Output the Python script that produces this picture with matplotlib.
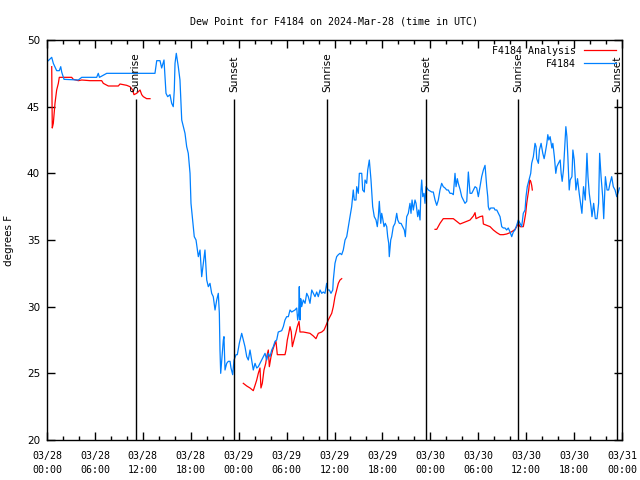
import numpy as np
import pandas as pd
import matplotlib
matplotlib.use("Agg")
import matplotlib.pyplot as plt
import matplotlib.dates as mdates

# hours after 2024-03-28 00:00 UTC, dew point in degrees F
obs_hours = [0.16, 0.59, 0.79, 1.21, 1.54, 1.72, 1.84, 2.13, 3.92, 4.35, 6.22, 6.42, 6.57, 7.48,
             13.52, 13.74, 14.15, 14.36, 14.65, 14.9, 15.11, 15.4, 15.61, 15.81, 15.94, 16.03, 16.19,
             16.44, 16.65, 16.87, 17.07, 17.28, 17.49, 17.69, 17.91, 18.03, 18.24, 18.44, 18.66, 18.95,
             19.16, 19.37, 19.57, 19.78, 20.0, 20.2, 20.41, 20.62, 20.82, 21.04, 21.25, 21.45, 21.58,
             21.66, 21.75, 21.88, 22.08, 22.16, 22.29, 22.5, 22.7, 22.92, 23.04, 23.25, 23.42, 23.67,
             23.83, 24.08, 24.38, 24.58, 24.79, 25.01, 25.21, 25.42, 25.63, 25.83, 26.05, 26.26, 26.46,
             26.67, 26.88, 27.09, 27.3, 27.51, 27.71, 27.92, 28.14, 28.34, 28.55, 28.76, 28.96, 29.39,
             29.59, 29.8, 30.01, 30.22, 30.43, 30.64, 31.05, 31.27, 31.39, 31.52, 31.59, 31.68, 31.77,
             31.89, 32.09, 32.31, 32.52, 32.72, 32.93, 33.15, 33.35, 33.56, 33.77, 33.97, 34.19, 34.4,
             34.6, 34.81, 35.02, 35.15, 35.35, 35.56, 35.78, 35.85, 35.98, 36.06, 36.27, 36.48, 36.69,
             36.9, 37.1, 37.32, 37.53, 37.73, 37.94, 38.15, 38.35, 38.48, 38.69, 38.78, 38.98, 39.11,
             39.41, 39.53, 39.73, 39.82, 40.03, 40.16, 40.36, 40.57, 40.78, 40.98, 41.2, 41.36, 41.49,
             41.61, 41.79, 41.91, 42.04, 42.2, 42.36, 42.54, 42.66, 42.79, 42.86, 43.04, 43.16, 43.36,
             43.58, 43.79, 43.92, 44.12, 44.33, 44.54, 44.74, 44.87, 45.04, 45.24, 45.45, 45.58, 45.71,
             45.87, 46.08, 46.21, 46.42, 46.55, 46.71, 46.83, 46.92, 47.05, 47.21, 47.33, 47.46, 47.75,
             48.17, 48.37, 48.59, 48.8, 49.0, 49.21, 49.42, 49.62, 49.84, 50.05, 50.25, 50.46, 50.68,
             50.88, 51.09, 51.22, 51.38, 51.5, 51.72, 51.93, 52.13, 52.34, 52.56, 52.76, 52.97, 53.19,
             53.39, 53.6, 53.81, 54.01, 54.22, 54.43, 54.64, 54.85, 55.06, 55.19, 55.26, 55.39, 55.56,
             55.76, 55.98, 56.1, 56.32, 56.52, 56.73, 56.94, 57.14, 57.35, 57.56, 57.76, 57.98, 58.19,
             58.39, 58.6, 58.81, 59.02, 59.23, 59.44, 59.64, 59.86, 59.98, 60.14, 60.36, 60.57, 60.69,
             60.9, 61.11, 61.24, 61.32, 61.53, 61.66, 61.87, 62.08, 62.25, 62.38, 62.59, 62.71, 62.84,
             63.0, 63.22, 63.34, 63.53, 63.71, 63.84, 64.04, 64.26, 64.38, 64.51, 64.67, 64.79, 64.97,
             65.1, 65.22, 65.39, 65.51, 65.73, 65.85, 66.02, 66.23, 66.43, 66.64, 66.86, 66.98, 67.18,
             67.4, 67.61, 67.74, 67.9, 68.12, 68.24, 68.45, 68.66, 68.87, 69.07, 69.2, 69.38, 69.58,
             69.71, 69.92, 70.13, 70.33, 70.5, 70.71, 70.91, 71.13, 71.34, 71.54, 71.67]
obs_dew = [48.45, 48.7, 48.25, 47.7, 47.7, 48.0, 47.6, 47.05, 47.0, 47.2, 47.2, 47.5, 47.2, 47.5,
           47.5, 48.45, 48.45, 47.9, 48.5, 46.0, 45.75, 45.9, 45.25, 45.0, 46.25, 48.25, 49.0,
           48.0, 47.0, 44.0, 43.5, 43.0, 42.0, 41.5, 40.0, 37.75, 36.5, 35.25, 35.0, 33.75,
           34.25, 32.25, 33.25, 34.25, 32.0, 31.5, 31.75, 31.0, 30.75, 29.75, 30.5, 31.0, 29.5,
           26.75, 25.0, 26.0, 27.5, 27.75, 25.25, 25.75, 25.9, 25.9, 25.4, 24.9, 26.0, 26.4,
           26.4, 27.25, 28.0, 27.5, 27.0, 26.25, 26.0, 26.75, 26.0, 25.25, 25.75, 25.4, 25.5,
           25.75, 26.0, 26.25, 26.5, 26.0, 26.5, 26.25, 26.75, 27.0, 27.4, 27.5, 28.1, 28.2,
           28.5, 29.0, 29.25, 29.25, 29.75, 29.6, 29.75, 29.9, 29.0, 29.5, 31.5, 29.0, 30.6,
           30.0, 30.5, 30.25, 31.0, 30.75, 30.25, 31.25, 31.0, 30.75, 31.1, 30.75, 31.25, 31.0,
           31.1, 31.0, 31.75, 31.25, 31.25, 31.0, 31.25, 32.0, 32.75, 33.25, 33.75, 33.9, 34.0,
           33.9, 34.25, 35.0, 35.25, 36.0, 36.75, 37.5, 38.75, 38.0, 38.0, 39.0, 38.5, 40.0,
           40.0, 38.75, 38.6, 39.5, 39.25, 40.25, 41.0, 39.5, 37.5, 36.75, 36.5, 36.0, 36.75,
           37.9, 36.25, 37.0, 36.6, 36.0, 36.25, 36.0, 35.25, 34.75, 33.75, 35.0, 35.25, 36.0,
           36.25, 37.0, 36.5, 36.25, 36.25, 36.0, 35.75, 35.25, 36.75, 37.0, 37.75, 37.0, 38.0,
           37.25, 38.0, 37.75, 36.75, 37.25, 36.5, 38.75, 39.5, 38.25, 38.5, 37.75, 39.0, 38.75,
           38.6, 38.6, 38.0, 37.6, 38.0, 38.75, 39.25, 39.0, 38.9, 38.75, 38.75, 38.5, 38.5,
           38.4, 40.0, 39.0, 39.6, 39.25, 38.8, 38.25, 38.0, 37.75, 37.9, 40.1, 38.5, 38.5,
           38.75, 39.0, 38.9, 38.25, 39.0, 39.75, 40.25, 40.6, 39.0, 38.25, 37.5, 37.25, 37.4,
           37.4, 37.4, 37.25, 37.25, 37.0, 36.75, 36.0, 35.9, 35.9, 35.75, 35.9, 35.6, 35.25,
           35.6, 35.75, 36.1, 36.5, 36.25, 36.0, 37.0, 37.25, 38.25, 39.0, 39.5, 40.0, 40.75,
           41.25, 42.25, 42.0, 41.1, 40.75, 41.75, 42.25, 41.5, 41.1, 41.5, 42.25, 42.9, 42.5,
           42.75, 41.9, 42.25, 41.25, 40.0, 40.5, 40.75, 41.0, 40.0, 39.4, 40.25, 41.5, 43.5,
           42.75, 41.25, 38.75, 39.5, 39.75, 41.75, 41.0, 38.75, 39.6, 38.5, 37.5, 37.0, 39.0,
           38.0, 41.5, 39.75, 38.5, 37.5, 36.75, 37.75, 36.6, 36.6, 37.75, 41.5, 39.75, 38.25,
           36.6, 39.75, 38.75, 38.75, 39.25, 39.75, 39.0, 38.75, 38.25, 38.6, 38.9]

# analysis series, NaN marks a gap
ana_hours = [0.59, 0.66, 0.79, 1.0, 1.21, 1.42, 1.54, 3.09, 3.29, 3.92, 4.35, 5.38, 6.85, 7.05,
             7.68, 8.93, 9.14, 9.98, 10.39, 10.73, 10.89, 11.23, 11.65, 11.86, 12.06, 12.48, 12.9,
             np.nan,
             24.58, 25.01, 25.42, 25.83, 26.05, 26.26, 26.46, 26.67, 26.79, 26.96, 27.17, 27.39, 27.51,
             27.71, 27.84, 28.05, 28.26, 28.46, 28.67, 28.84, 29.8, 29.93, 30.09, 30.27, 30.43, 30.59,
             30.72, 30.93, 31.14, 31.34, 31.56, 31.68, 32.09, 32.52, 32.93, 33.35, 33.68, 33.97, 34.4,
             34.69, 34.94, 35.22, 35.43, 35.65, 35.85, 36.06, 36.27, 36.48, 36.69, 36.9,
             np.nan,
             48.59, 48.8, 49.21, 49.62, 50.88, 51.3, 51.72, 52.56, 52.97, 53.39, 53.6, 53.72, 54.22,
             54.55, 54.64, 55.06, 55.48, 55.89, 56.32, 56.73, 57.14, 57.56, 57.98, 58.39, 58.6, 58.81,
             59.02, 59.23, 59.64, 59.77, 59.94, 60.07, 60.19, 60.32, 60.45, 60.57, 60.69, 60.77]
ana_dew = [48.0, 43.4, 43.75, 45.25, 46.25, 46.75, 47.2, 47.2, 47.05, 46.95, 47.0, 46.95, 46.95, 46.75,
           46.55, 46.55, 46.7, 46.6, 46.5, 46.25, 45.9, 46.0, 46.25, 45.9, 45.75, 45.6, 45.6,
           np.nan,
           24.25, 24.05, 23.9, 23.7, 24.1, 24.5, 25.0, 25.4, 23.9, 24.25, 25.25, 25.75, 26.25,
           26.75, 25.5, 26.25, 26.75, 27.1, 27.4, 26.4, 26.4, 26.75, 27.5, 28.0, 28.5, 28.1,
           27.0, 27.5, 28.0, 28.5, 28.9, 28.1, 28.1, 28.05, 28.0, 27.8, 27.6, 28.0, 28.1,
           28.25, 28.6, 29.0, 29.25, 29.5, 30.0, 30.75, 31.25, 31.75, 32.0, 32.1,
           np.nan,
           35.8, 35.8, 36.25, 36.6, 36.6, 36.4, 36.2, 36.4, 36.5, 36.8, 37.05, 36.6, 36.75,
           36.8, 36.2, 36.1, 36.0, 35.75, 35.55, 35.4, 35.4, 35.45, 35.55, 35.7, 35.8, 36.0,
           36.25, 36.0, 36.0, 36.4, 37.0, 37.75, 38.25, 38.75, 39.5, 39.4, 39.1, 38.75]

sun_times = ["2024-03-28 11:06", "2024-03-28 23:27", "2024-03-29 11:05",
             "2024-03-29 23:30", "2024-03-30 11:01", "2024-03-30 23:25"]
sun_labels = ["Sunrise", "Sunset", "Sunrise", "Sunset", "Sunrise", "Sunset"]

start = pd.Timestamp("2024-03-28 00:00")
end = pd.Timestamp("2024-03-31 00:00")

def to_time(hours):
    return start + pd.to_timedelta(np.array(hours, dtype=float), unit="h")

mono = "DejaVu Sans Mono"
sans = "DejaVu Sans"

fig = plt.figure(figsize=(6.4, 4.8), dpi=100)
ax = fig.add_axes([47 / 640, 40 / 480, 575 / 640, 400 / 480])

ax.plot(to_time(ana_hours), ana_dew, color="#ff0000", lw=0.9, label="F4184 Analysis")
ax.plot(to_time(obs_hours), obs_dew, color="#0080ff", lw=0.9, label="F4184")

for t, lab in zip(sun_times, sun_labels):
    tt = pd.Timestamp(t)
    ax.vlines(tt, 20, 45.55, color="black", lw=1)
    ax.text(tt, 46.1, lab, rotation=90, ha="center", va="bottom",
            fontsize=7.6, family=sans)

ax.set_xlim(start, end)
ax.set_ylim(20, 50)
ax.set_yticks(np.arange(20, 51, 5))
ax.xaxis.set_major_locator(mdates.HourLocator(byhour=[0, 6, 12, 18]))
ax.xaxis.set_minor_locator(mdates.HourLocator(interval=2))
ax.xaxis.set_major_formatter(mdates.DateFormatter("%m/%d\n%H:%M"))
ax.tick_params(which="both", direction="in", top=True, right=True, width=1)
ax.tick_params(which="major", length=6)
ax.tick_params(which="minor", length=3)
ax.tick_params(axis="x", labelsize=7.2, pad=8)
ax.tick_params(axis="y", labelsize=7.5, pad=5)
for lab in ax.get_xticklabels():
    lab.set_family(mono)
    lab.set_linespacing(1.5)
for lab in ax.get_yticklabels():
    lab.set_family(sans)
for s in ax.spines.values():
    s.set_linewidth(1)

ax.set_ylabel("degrees F", fontsize=7.5, family=sans, labelpad=9)
ax.set_title("Dew Point for F4184 on 2024-Mar-28 (time in UTC)", family=mono,
             fontsize=7.2, pad=11.5)

ax.legend(loc="upper right", frameon=False, markerfirst=False,
          prop={"family": mono, "size": 7.2}, handlelength=3.2, handletextpad=0.8,
          borderaxespad=0.2, labelspacing=0.3)

fig.savefig("out.png", dpi=100)
